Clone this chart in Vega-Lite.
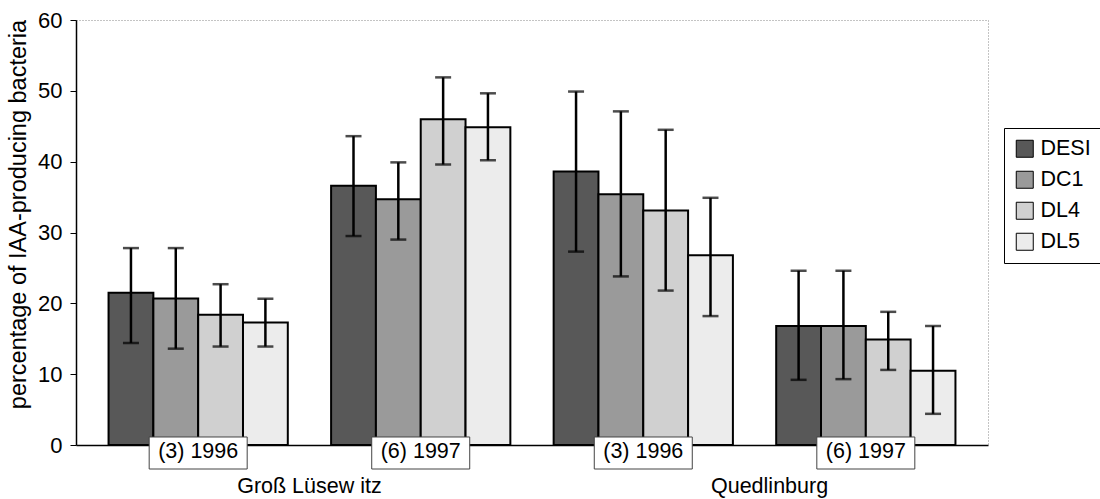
{
  "$schema": "https://vega.github.io/schema/vega-lite/v6.json",
  "width": 912,
  "height": 425,
  "autosize": "none",
  "padding": {"left": 76, "top": 20, "right": 112, "bottom": 54},
  "background": "white",
  "config": {
    "font": "Liberation Sans",
    "view": {"stroke": "#888888", "strokeDash": [1, 2], "strokeWidth": 1}
  },
  "datasets": {
    "bars": [
      {"group": "GL1996", "series": "DESI", "value": 21.5, "lo": 14.4, "hi": 27.8},
      {"group": "GL1996", "series": "DC1", "value": 20.7, "lo": 13.6, "hi": 27.8},
      {"group": "GL1996", "series": "DL4", "value": 18.4, "lo": 13.9, "hi": 22.7},
      {"group": "GL1996", "series": "DL5", "value": 17.3, "lo": 13.9, "hi": 20.65},
      {"group": "GL1997", "series": "DESI", "value": 36.6, "lo": 29.5, "hi": 43.6},
      {"group": "GL1997", "series": "DC1", "value": 34.7, "lo": 29.0, "hi": 39.9},
      {"group": "GL1997", "series": "DL4", "value": 46.0, "lo": 39.6, "hi": 51.9},
      {"group": "GL1997", "series": "DL5", "value": 44.85, "lo": 40.2, "hi": 49.65},
      {"group": "Q1996", "series": "DESI", "value": 38.6, "lo": 27.3, "hi": 49.9},
      {"group": "Q1996", "series": "DC1", "value": 35.4, "lo": 23.8, "hi": 47.1},
      {"group": "Q1996", "series": "DL4", "value": 33.1, "lo": 21.8, "hi": 44.5},
      {"group": "Q1996", "series": "DL5", "value": 26.8, "lo": 18.2, "hi": 34.9},
      {"group": "Q1997", "series": "DESI", "value": 16.8, "lo": 9.2, "hi": 24.6},
      {"group": "Q1997", "series": "DC1", "value": 16.8, "lo": 9.3, "hi": 24.6},
      {"group": "Q1997", "series": "DL4", "value": 14.9, "lo": 10.6, "hi": 18.8},
      {"group": "Q1997", "series": "DL5", "value": 10.5, "lo": 4.4, "hi": 16.8}
    ],
    "cats": [
      {"group": "GL1996", "label": "(3) 1996"},
      {"group": "GL1997", "label": "(6) 1997"},
      {"group": "Q1996", "label": "(3) 1996"},
      {"group": "Q1997", "label": "(6) 1997"}
    ],
    "regionGL": [{"group": "GL1997", "label": "Groß Lüsew itz"}],
    "regionQ": [{"group": "Q1997", "label": "Quedlinburg"}]
  },
  "layer": [
    {
      "data": {"name": "bars"},
      "mark": {"type": "bar", "stroke": "black", "strokeWidth": 2},
      "encoding": {
        "x": {
          "field": "group", "type": "nominal",
          "scale": {"domain": ["GL1996", "GL1997", "Q1996", "Q1997"], "paddingInner": 0, "paddingOuter": 0.049},
          "axis": {"title": null, "labels": false, "ticks": false, "domainColor": "black", "domainWidth": 1.5}
        },
        "xOffset": {
          "field": "series", "type": "nominal",
          "scale": {"domain": ["DESI", "DC1", "DL4", "DL5"], "paddingInner": 0, "paddingOuter": 0.483}
        },
        "y": {
          "field": "value", "type": "quantitative",
          "scale": {"domain": [0, 60], "nice": false},
          "axis": {
            "title": "percentage of IAA-producing bacteria",
            "values": [0, 10, 20, 30, 40, 50, 60],
            "grid": false,
            "domainColor": "black", "domainWidth": 1.5,
            "tickColor": "black", "tickSize": 6,
            "labelFontSize": 22, "labelPadding": 8, "labelColor": "black",
            "titleFontSize": 23.5, "titleFontWeight": "normal", "titleColor": "black",
            "titleX": -58, "titleY": 194, "titleAngle": -90, "titleBaseline": "middle", "titleAlign": "center"
          }
        },
        "fill": {
          "field": "series", "type": "nominal",
          "scale": {"domain": ["DESI", "DC1", "DL4", "DL5"], "range": ["#585858", "#9a9a9a", "#d0d0d0", "#ececec"]},
          "legend": {
            "title": null, "orient": "none", "legendX": 928, "legendY": 108,
            "strokeColor": "black", "fillColor": "white", "padding": 10,
            "symbolType": "square", "symbolSize": 289, "symbolStrokeColor": "black", "symbolStrokeWidth": 1,
            "labelFontSize": 21.5, "labelOffset": 5, "rowPadding": 8, "labelColor": "black"
          }
        }
      }
    },
    {
      "data": {"name": "bars"},
      "mark": {"type": "rule", "strokeWidth": 2.5, "color": "black"},
      "encoding": {
        "x": {"field": "group", "type": "nominal"},
        "xOffset": {"field": "series", "type": "nominal"},
        "y": {"field": "lo", "type": "quantitative"},
        "y2": {"field": "hi"}
      }
    },
    {
      "data": {"name": "bars"},
      "mark": {"type": "tick", "color": "black", "thickness": 2.5, "size": 16},
      "encoding": {
        "x": {"field": "group", "type": "nominal"},
        "xOffset": {"field": "series", "type": "nominal"},
        "y": {"field": "hi", "type": "quantitative"}
      }
    },
    {
      "data": {"name": "bars"},
      "mark": {"type": "tick", "color": "black", "thickness": 2.5, "size": 16},
      "encoding": {
        "x": {"field": "group", "type": "nominal"},
        "xOffset": {"field": "series", "type": "nominal"},
        "y": {"field": "lo", "type": "quantitative"}
      }
    },
    {
      "data": {"name": "cats"},
      "mark": {"type": "bar", "width": 98, "fill": "white", "stroke": "#444444", "strokeWidth": 1},
      "encoding": {
        "x": {"field": "group", "type": "nominal"},
        "y": {"datum": 1.13},
        "y2": {"datum": -3.39}
      }
    },
    {
      "data": {"name": "cats"},
      "mark": {"type": "text", "fontSize": 21.5, "baseline": "alphabetic", "align": "center", "color": "black"},
      "encoding": {
        "x": {"field": "group", "type": "nominal"},
        "y": {"datum": -1.84},
        "text": {"field": "label"}
      }
    },
    {
      "data": {"name": "regionGL"},
      "mark": {"type": "text", "fontSize": 21.5, "baseline": "alphabetic", "align": "center", "color": "black"},
      "encoding": {
        "x": {"field": "group", "type": "nominal", "bandPosition": 0},
        "y": {"datum": -6.8},
        "text": {"field": "label"}
      }
    },
    {
      "data": {"name": "regionQ"},
      "mark": {"type": "text", "fontSize": 21.5, "baseline": "alphabetic", "align": "center", "color": "black", "dx": 15},
      "encoding": {
        "x": {"field": "group", "type": "nominal", "bandPosition": 0},
        "y": {"datum": -6.8},
        "text": {"field": "label"}
      }
    }
  ]
}
